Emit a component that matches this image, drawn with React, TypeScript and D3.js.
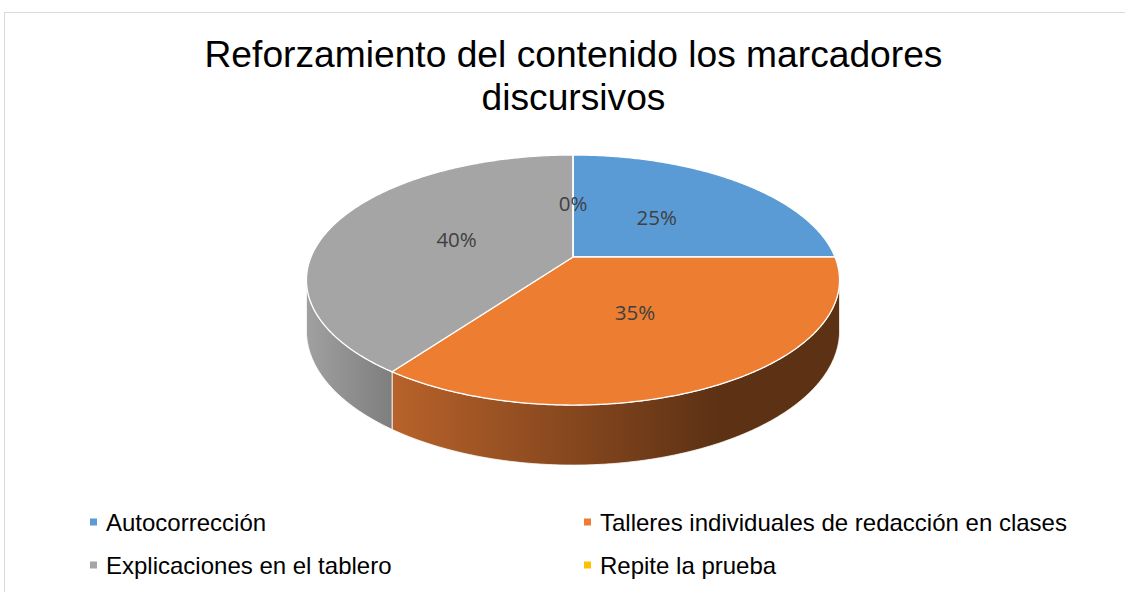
import React from "react";
import * as d3 from "d3";

const categories = [
  "Autocorrección",
  "Talleres individuales de redacción en clases",
  "Explicaciones en el tablero",
  "Repite la prueba",
];
const values = [25, 35, 40, 0];
const labels = ["25%", "35%", "40%", "0%"];
const titleLines = ["Reforzamiento del contenido los marcadores", "discursivos"];

const palette = ["#5b9bd5", "#ed7d31", "#a5a5a5", "#ffc000"];

const W = 1125;
const H = 592;
// perspective pie geometry
const CX = 573;
const CY = 257;
const A = 262;
const B = 120.8;
const K = 0.184;
const D = 49;

function proj(theta: number, r: number, drop = 0): [number, number] {
  const u = r * Math.sin(theta);
  const v = -r * Math.cos(theta);
  const w = 1 - K * v;
  return [CX + (A * u) / w, CY + (B * v) / w + drop / w];
}

function arcPts(a0: number, a1: number, drop = 0): [number, number][] {
  const n = Math.max(2, Math.ceil(Math.abs(a1 - a0) / (Math.PI / 360)));
  const pts: [number, number][] = [];
  for (let i = 0; i <= n; i++) {
    const t = a0 + ((a1 - a0) * i) / n;
    pts.push(proj(t, 1, drop));
  }
  return pts;
}

const line = d3.line<[number, number]>();

export default function App() {
  const color = d3.scaleOrdinal<string, string>().domain(categories).range(palette);
  const pie = d3
    .pie<number>()
    .sort(null)
    .value((d) => d);
  const arcs = pie(values);

  // visible wall range (front-facing silhouette)
  const wallStart = Math.acos(-K); // right extreme
  const wallEnd = 2 * Math.PI - Math.acos(-K); // left extreme

  const wallGrad: Record<number, [string, string, number, number]> = {
    1: ["#b8622a", "#5c3114", 392, 720],
    2: ["#a0a0a0", "#7e7e7e", 307, 392],
    0: ["#3a6a9a", "#2c5480", 573, 840],
    3: ["#b08400", "#805f00", 307, 840],
  };

  const walls = arcs.map((a, i) => {
    const s = Math.max(a.startAngle, wallStart);
    const e = Math.min(a.endAngle, wallEnd);
    if (e - s <= 1e-6) return null;
    const top = arcPts(s, e, 0);
    const bot = arcPts(e, s, D);
    return { i, d: line([...top, ...bot])! + "Z" };
  });

  const tops = arcs.map((a, i) => {
    if (a.endAngle - a.startAngle <= 1e-6) return null;
    const pts: [number, number][] = [[CX, CY], ...arcPts(a.startAngle, a.endAngle, 0)];
    return { i, d: line(pts)! + "Z" };
  });

  const legendX = d3.scaleOrdinal<number, number>().domain([0, 1]).range([90, 584]);
  const legendY = d3.scaleOrdinal<number, number>().domain([0, 1]).range([522, 565]);

  return (
    <svg
      width={W}
      height={H}
      style={{ position: "absolute", left: 0, top: 0, background: "#fff" }}
      fontFamily="'Liberation Sans', Arial, sans-serif"
    >
      <defs>
        {Object.entries(wallGrad).map(([k, g]) => (
          <linearGradient key={k} id={`wg${k}`} gradientUnits="userSpaceOnUse" x1={g[2]} x2={g[3]} y1={0} y2={0}>
            <stop offset="0%" stopColor={g[0]} />
            <stop offset="100%" stopColor={g[1]} />
          </linearGradient>
        ))}
      </defs>
      <rect x={0} y={0} width={W} height={H} fill="#fff" />
      <rect x={4.5} y={12.5} width={W + 20} height={H + 20} fill="none" stroke="#d9d9d9" strokeWidth={1} />

      {titleLines.map((t, i) => (
        <text key={i} x={573.5} y={67 + i * 43} textAnchor="middle" fontSize={37.2} fill="#000">
          {t}
        </text>
      ))}

      {walls.map((w) =>
        w ? <path key={`w${w.i}`} d={w.d} fill={`url(#wg${w.i})`} stroke="#ffffff" strokeWidth={0.8} strokeLinejoin="round" /> : null
      )}
      {tops.map((t) =>
        t ? <path key={`t${t.i}`} d={t.d} fill={color(categories[t.i])} stroke="#ffffff" strokeWidth={1.3} strokeLinejoin="round" /> : null
      )}
      {/* zero-value slice divider */}
      {arcs.map((a, i) =>
        a.endAngle - a.startAngle <= 1e-6 ? (
          <line key={`z${i}`} x1={CX} y1={CY} x2={proj(a.startAngle, 1)[0]} y2={proj(a.startAngle, 1)[1]} stroke="#fff" strokeWidth={1.3} />
        ) : null
      )}

      {arcs.map((a, i) => {
        const mid = (a.startAngle + a.endAngle) / 2;
        const [x, y] = proj(mid, 0.48);
        return (
          <text key={`l${i}`} x={x} y={y + 7} textAnchor="middle" fontSize={20.5} fontFamily="'Open Sans', sans-serif" fill="#404040">
            {labels[i]}
          </text>
        );
      })}

      {categories.map((c, i) => {
        const col = i % 2;
        const row = Math.floor(i / 2);
        const x = legendX(col);
        const y = legendY(row);
        return (
          <g key={`lg${i}`}>
            <rect x={x} y={y - 3.5} width={7} height={7} fill={color(c)} />
            <text x={x + 16} y={y + 8.5} fontSize={24} fill="#000">
              {c}
            </text>
          </g>
        );
      })}
    </svg>
  );
}
